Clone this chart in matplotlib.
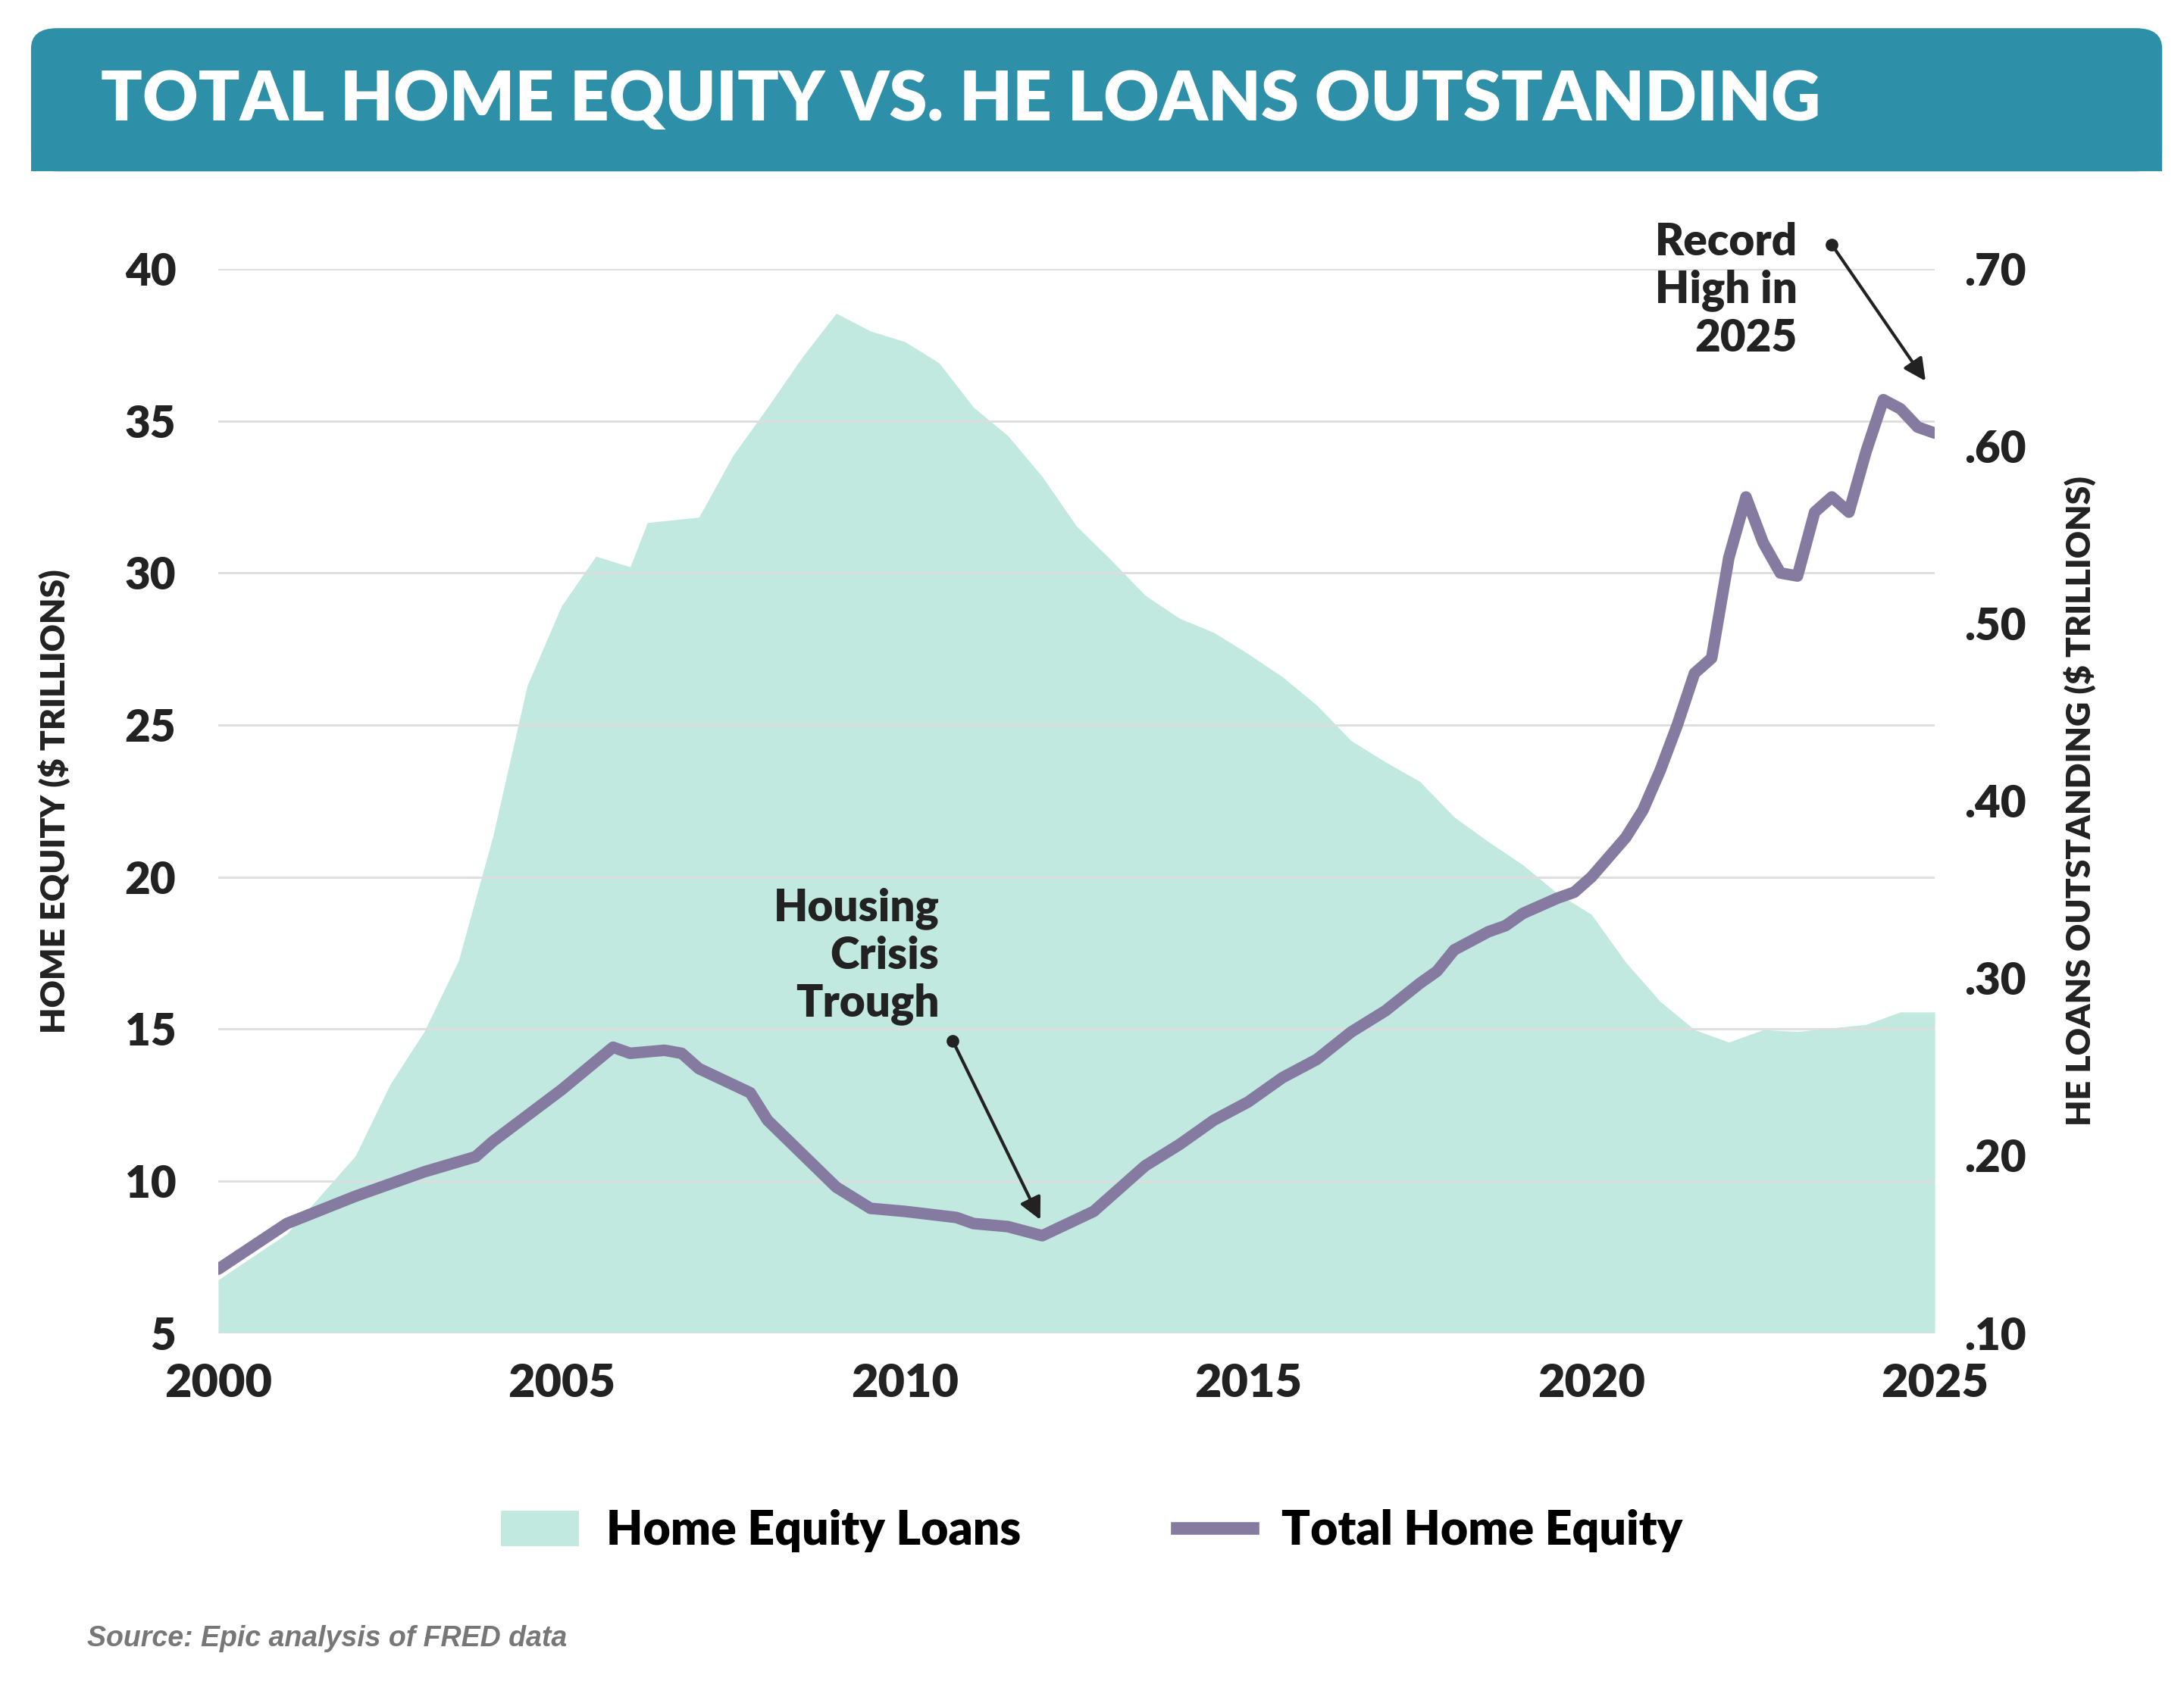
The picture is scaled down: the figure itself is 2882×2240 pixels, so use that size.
import matplotlib
matplotlib.use("Agg")
import matplotlib.pyplot as plt
from matplotlib.patches import FancyBboxPatch, Rectangle
from matplotlib.lines import Line2D
from matplotlib.patches import Patch

# total home equity ($ trillions), left axis
eq_years = [2000, 2001, 2002, 2003, 2003.75, 2004, 2005, 2005.75, 2006, 2006.5, 2006.75, 2007, 2007.75, 2008,
            2009, 2009.5, 2010, 2010.75, 2011, 2011.5, 2012, 2012.75, 2013, 2013.5, 2014, 2014.5, 2015,
            2015.5, 2016, 2016.5, 2017, 2017.5, 2017.75, 2018, 2018.5, 2018.75, 2019, 2019.5, 2019.75,
            2020, 2020.5, 2020.75, 2021, 2021.25, 2021.5, 2021.75, 2022, 2022.25, 2022.5, 2022.75, 2023,
            2023.25, 2023.5, 2023.75, 2024, 2024.25, 2024.5, 2024.75, 2025]
equity = [7.1, 8.6, 9.5, 10.3, 10.8, 11.3, 13.0, 14.4, 14.2, 14.3, 14.2, 13.7, 12.9, 12.0,
          9.8, 9.1, 9.0, 8.8, 8.6, 8.5, 8.2, 9.0, 9.5, 10.5, 11.2, 12.0, 12.6,
          13.4, 14.0, 14.9, 15.6, 16.5, 16.9, 17.6, 18.2, 18.4, 18.8, 19.3, 19.5,
          20.0, 21.3, 22.2, 23.5, 25.0, 26.7, 27.2, 30.5, 32.5, 31.0, 30.0, 29.9,
          32.0, 32.5, 32.0, 34.0, 35.7, 35.4, 34.8, 34.6]

# home equity loans outstanding ($ trillions), right axis
he_years = [2000, 2001, 2002, 2002.5, 2003, 2003.5, 2004, 2004.5, 2005, 2005.5, 2006,
            2006.25, 2007, 2007.5, 2008, 2008.5, 2009, 2009.5, 2010, 2010.5, 2011,
            2011.5, 2012, 2012.5, 2013, 2013.5, 2014, 2014.5, 2015, 2015.5, 2016,
            2016.5, 2017, 2017.5, 2018, 2018.5, 2019, 2019.5, 2020, 2020.5, 2021,
            2021.5, 2022, 2022.5, 2023, 2023.5, 2024, 2024.5, 2025]
he_loans = [0.13, 0.156, 0.20, 0.24, 0.27, 0.31, 0.38, 0.465, 0.51, 0.538, 0.532,
            0.557, 0.56, 0.595, 0.622, 0.65, 0.675, 0.665, 0.659, 0.647, 0.622,
            0.606, 0.583, 0.555, 0.536, 0.516, 0.503, 0.495, 0.483, 0.47, 0.454,
            0.434, 0.422, 0.411, 0.391, 0.377, 0.364, 0.348, 0.336, 0.309, 0.287,
            0.271, 0.264, 0.271, 0.27, 0.272, 0.274, 0.281, 0.281]

left_ticks = [5, 10, 15, 20, 25, 30, 35, 40]
right_ticks = [0.10, 0.20, 0.30, 0.40, 0.50, 0.60, 0.70]
right_labels = [".10", ".20", ".30", ".40", ".50", ".60", ".70"]
x_ticks = [2000, 2005, 2010, 2015, 2020, 2025]

TEAL = "#2E8FA8"
MINT = "#C2E9E0"
PURPLE = "#857BA0"
DARK = "#222222"

plt.rcParams["font.family"] = "Lato"
fig = plt.figure(figsize=(14.41, 11.2), dpi=200)

# title banner
fig.patches.append(FancyBboxPatch((0.0142, 0.899), 0.9758, 0.0844, boxstyle="round,pad=0,rounding_size=0.012",
                                  transform=fig.transFigure, fc=TEAL, ec="none"))
fig.patches.append(Rectangle((0.0142, 0.899), 0.9758, 0.03, transform=fig.transFigure, fc=TEAL, ec="none"))
fig.text(0.046, 0.941, "TOTAL HOME EQUITY VS. HE LOANS OUTSTANDING", color="white",
         fontsize=32.5, fontweight="heavy", va="center")

ax = fig.add_axes([0.0999, 0.2145, 0.786, 0.627])
ax2 = ax.twinx()
ax.set_zorder(2)
ax.patch.set_visible(False)

ax2.fill_between(he_years, 0.10, he_loans, color=MINT, lw=0)
ax2.set_ylim(0.10, 0.70)
ax2.set_yticks(right_ticks)
ax2.set_yticklabels(right_labels)

ax.plot(eq_years, equity, color=PURPLE, lw=5.5, solid_capstyle="round", solid_joinstyle="round")
ax.set_ylim(5, 40)
ax.set_xlim(2000, 2025)
ax.set_yticks(left_ticks)
ax.set_xticks(x_ticks)
ax.grid(axis="y", color="#DDDDDD", lw=1)
ax.set_axisbelow(True)

for a in (ax, ax2):
    for s in a.spines.values():
        s.set_visible(False)
    a.tick_params(length=0, labelsize=21, colors=DARK)
    for lab in a.get_xticklabels() + a.get_yticklabels():
        lab.set_fontweight("heavy")
ax.tick_params(axis="x", pad=14, labelsize=22)
ax.tick_params(axis="y", pad=20)
ax2.tick_params(axis="y", pad=14)

ax.set_ylabel("HOME EQUITY ($ TRILLIONS)", fontsize=16, fontweight="heavy", color=DARK, labelpad=26)
ax2.set_ylabel("HE LOANS OUTSTANDING ($ TRILLIONS)", fontsize=16, fontweight="heavy", color=DARK, labelpad=18)

# annotations
ax.annotate("", xy=(2012.0, 8.6), xytext=(2010.7, 14.6),
            arrowprops=dict(arrowstyle="-|>", color=DARK, lw=1.5, mutation_scale=22))
ax.plot([2010.7], [14.6], "o", color=DARK, ms=5)
ax.text(2010.5, 17.4, "Housing\nCrisis\nTrough", ha="right", va="center", fontsize=21,
        fontweight="heavy", color=DARK, linespacing=1.2)
ax.annotate("", xy=(2024.9, 36.2), xytext=(2023.5, 40.8),
            arrowprops=dict(arrowstyle="-|>", color=DARK, lw=1.5, mutation_scale=22), annotation_clip=False)
ax.plot([2023.5], [40.8], "o", color=DARK, ms=5, clip_on=False)
ax.text(2023.0, 39.3, "Record\nHigh in\n2025", ha="right", va="center", fontsize=21,
        fontweight="heavy", color=DARK, linespacing=1.2)

handles = [Patch(color=MINT), Line2D([0], [0], color=PURPLE, lw=6)]
fig.legend(handles, ["Home Equity Loans", "Total Home Equity"], loc="center", bbox_to_anchor=(0.5, 0.098),
           ncol=2, frameon=False, handlelength=1.6, handletextpad=0.6, columnspacing=3.3,
           prop={"weight": "heavy", "size": 22.5})

fig.text(0.04, 0.03, "Source: Epic analysis of FRED data", fontsize=13.5, style="italic",
         fontweight="bold", color="#777777", family="Liberation Sans")

fig.savefig("out.png", dpi=200)
